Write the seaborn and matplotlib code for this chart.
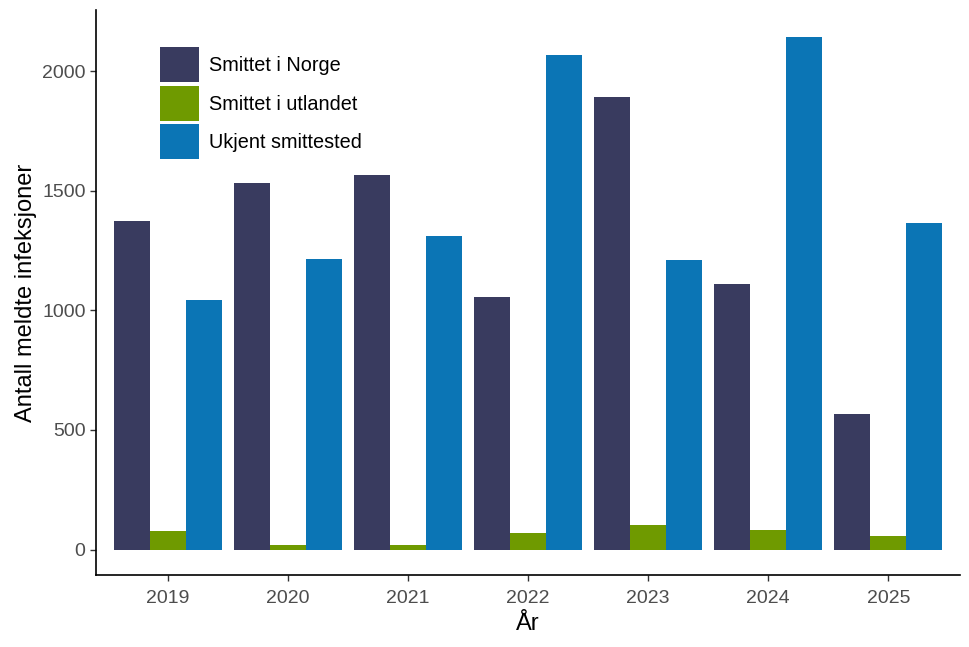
import matplotlib
matplotlib.use("Agg")
import matplotlib.pyplot as plt
import seaborn as sns
import pandas as pd

years = ["2019", "2020", "2021", "2022", "2023", "2024", "2025"]
categories = ["Smittet i Norge", "Smittet i utlandet", "Ukjent smittested"]
norge = [1372, 1533, 1567, 1058, 1893, 1112, 568]
utlandet = [76, 18, 21, 68, 101, 80, 57]
ukjent = [1044, 1215, 1309, 2066, 1210, 2142, 1366]
colors = ["#393b5f", "#6f9a00", "#0b75b5"]

df = pd.DataFrame({
    "year": years * 3,
    "group": [categories[0]] * 7 + [categories[1]] * 7 + [categories[2]] * 7,
    "count": norge + utlandet + ukjent,
})

sns.set_theme(style="ticks")
plt.rcParams["font.family"] = ["Liberation Sans", "DejaVu Sans"]

fig, ax = plt.subplots(figsize=(9.7, 6.47), dpi=100)
sns.barplot(data=df, x="year", y="count", hue="group", order=years,
            hue_order=categories, palette=colors, saturation=1, width=0.9, gap=0,
            edgecolor="none", linewidth=0, ax=ax)

ax.set_xlim(-0.6, 6.6)
ax.set_ylim(-107, 2257)
ax.set_yticks([0, 500, 1000, 1500, 2000])
ax.set_xlabel("År", fontsize=17, color="black", labelpad=4)
ax.set_ylabel("Antall meldte infeksjoner", fontsize=17, color="black", labelpad=4)
ax.tick_params(axis="both", labelsize=14, labelcolor="#4d4d4d", color="#333333",
               length=4, width=1)
ax.tick_params(axis="x", pad=7)
for side in ["top", "right"]:
    ax.spines[side].set_visible(False)
for side in ["left", "bottom"]:
    ax.spines[side].set_linewidth(1.2)
    ax.spines[side].set_color("black")

# square-ish keys, tightly stacked like the ggplot legend
ax.legend(title=None, loc="upper left", bbox_to_anchor=(0.053, 0.965), frameon=False,
          fontsize=14.3, handlelength=2.0, handleheight=2.33, labelspacing=0.18,
          handletextpad=0.5, borderpad=0.4, borderaxespad=0.5, labelcolor="black")

fig.subplots_adjust(left=0.099, right=0.99, top=0.985, bottom=0.111)
fig.savefig("out.png", dpi=100)
